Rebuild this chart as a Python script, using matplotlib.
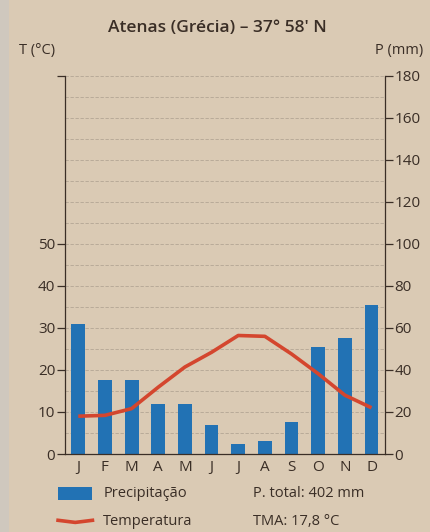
import matplotlib
matplotlib.use("Agg")
import matplotlib.pyplot as plt
from matplotlib.patches import Rectangle
from matplotlib.lines import Line2D

plt.rcParams['font.family'] = ['Open Sans', 'DejaVu Sans']

# dados climáticos de Atenas
months = ["J", "F", "M", "A", "M", "J", "J", "A", "S", "O", "N", "D"]
precip = [62, 35, 35, 24, 24, 14, 5, 6, 15, 51, 55, 71]
temp = [9.0, 9.2, 10.8, 15.9, 20.7, 24.2, 28.2, 28.0, 23.8, 19.1, 14.0, 11.0]
temp_ticks = [0, 10, 20, 30, 40, 50]
precip_ticks = [0, 20, 40, 60, 80, 100, 120, 140, 160, 180]

bg = "#dacab4"
ink = "#3a2e26"
blue = "#2272b4"
red = "#d4462e"

fig = plt.figure(figsize=(4.30, 5.32), dpi=100, facecolor=bg)
# faixa mais clara na margem esquerda (borda da página)
fig.patches.append(Rectangle((0, 0), 0.02, 1, transform=fig.transFigure,
                             facecolor="#cfc8be", edgecolor="none", zorder=0))

ax_p = fig.add_axes([0.151, 0.1466, 0.744, 0.711])
ax_p.set_facecolor("none")
x = list(range(len(months)))

# linhas de grade a cada 10 mm
for g in range(10, 181, 10):
    ax_p.axhline(g, color="#a39686", lw=0.6, ls=(0, (4, 2)), alpha=0.7, zorder=0)

ax_p.bar(x, precip, width=0.52, color=blue, zorder=2)
ax_p.set_ylim(0, 180)
ax_p.set_xlim(-0.5, 11.5)
ax_p.set_xticks(x)
ax_p.set_xticklabels(months)
ax_p.tick_params(axis="x", length=0, labelsize=11, labelcolor=ink, pad=4)
ax_p.spines["top"].set_visible(False)
for side in ["left", "right", "bottom"]:
    ax_p.spines[side].set_color(ink)
    ax_p.spines[side].set_linewidth(0.9)

ax_t = ax_p.twinx()
ax_t.set_ylim(0, 90)
ax_t.plot(x, temp, color=red, lw=2.6, solid_capstyle="butt", zorder=3)
for side in ["top", "right", "bottom", "left"]:
    ax_t.spines[side].set_visible(False)

# precipitação à direita, temperatura à esquerda
ax_p.yaxis.set_ticks_position("right")
ax_p.yaxis.set_label_position("right")
ax_p.set_yticks(precip_ticks)
ax_p.tick_params(axis="y", direction="out", length=6, width=0.9, color=ink,
                 labelsize=11, labelcolor=ink, pad=1,
                 left=False, labelleft=False, right=True, labelright=True)

ax_t.yaxis.set_ticks_position("left")
ax_t.set_yticks(temp_ticks + [90])
ax_t.set_yticklabels([str(t) for t in temp_ticks] + [""])
ax_t.tick_params(axis="y", direction="out", length=6, width=0.9, color=ink,
                 labelsize=11, labelcolor=ink, pad=1,
                 left=True, labelleft=True, right=False, labelright=False)

fig.text(0.505, 0.948, "Atenas (Grécia) – 37° 58' N", ha="center", va="center",
         fontsize=12.5, color=ink, fontweight="semibold")
fig.text(0.045, 0.905, "T (°C)", ha="left", va="center", fontsize=10.5, color=ink)
fig.text(0.985, 0.905, "P (mm)", ha="right", va="center", fontsize=10.5, color=ink)

# legenda
fig.patches.append(Rectangle((0.135, 0.060), 0.080, 0.024, transform=fig.transFigure,
                             facecolor=blue, edgecolor="none"))
fig.lines.append(Line2D([0.135, 0.175, 0.215], [0.022, 0.018, 0.022],
                        transform=fig.transFigure, color=red, lw=2.6))
fig.text(0.240, 0.072, "Precipitação", ha="left", va="center", fontsize=10.5, color=ink)
fig.text(0.240, 0.020, "Temperatura", ha="left", va="center", fontsize=10.5, color=ink)
fig.text(0.588, 0.072, "P. total: 402 mm", ha="left", va="center", fontsize=10.5, color=ink)
fig.text(0.588, 0.020, "TMA: 17,8 °C", ha="left", va="center", fontsize=10.5, color=ink)

fig.savefig("out.png", dpi=100, facecolor=bg)
